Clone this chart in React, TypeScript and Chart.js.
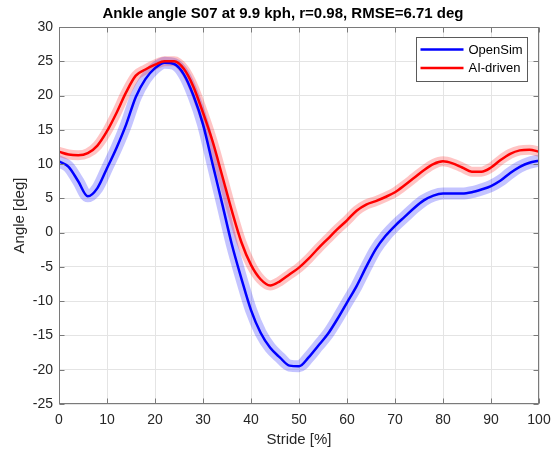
import React, { useEffect, useRef } from "react";
import { Chart, registerables } from "chart.js";

Chart.register(...registerables);

const titleText = "Ankle angle S07 at 9.9 kph, r=0.98, RMSE=6.71 deg";
const xTitle = "Stride [%]";
const yTitle = "Angle [deg]";
const seriesNames = ["OpenSim", "AI-driven"];

const stride = [
  0, 2, 4, 6, 8, 10, 12, 14, 16, 18, 20, 22, 24, 26, 28, 30, 32, 34, 36, 38, 40,
  42, 44, 46, 48, 50, 52, 54, 56, 58, 60, 62, 64, 66, 68, 70, 72, 74, 76, 78, 80,
  82, 84, 86, 88, 90, 92, 94, 96, 98, 100,
];

const openSim = [
  10.4, 9.6, 7.5, 5.3, 6.5, 9.4, 12.4, 15.8, 19.8, 22.4, 24.0, 24.8, 24.6, 23.1,
  20.0, 15.8, 10.0, 4.2, -1.7, -6.7, -11.3, -14.6, -16.8, -18.2, -19.4, -19.5,
  -18.2, -16.5, -14.8, -12.6, -10.2, -7.8, -5.0, -2.4, -0.5, 1.0, 2.3, 3.6, 4.7,
  5.4, 5.7, 5.7, 5.7, 5.9, 6.3, 6.8, 7.6, 8.7, 9.6, 10.2, 10.5,
];

const aiDriven = [
  11.8, 11.4, 11.3, 11.6, 12.7, 14.8, 17.5, 20.5, 22.9, 23.8, 24.5, 25.0, 25.0,
  23.9, 21.3, 17.5, 13.3, 8.3, 3.2, -1.4, -4.7, -6.8, -7.7, -7.1, -6.1, -5.1,
  -3.8, -2.3, -0.9, 0.5, 1.8, 3.2, 4.1, 4.6, 5.2, 5.9, 6.9, 8.0, 9.1, 10.0, 10.4,
  10.1, 9.5, 8.9, 8.9, 9.5, 10.6, 11.5, 12.0, 12.1, 11.8,
];

const strideTicks = [0, 10, 20, 30, 40, 50, 60, 70, 80, 90, 100];
const angleTicks = [-25, -20, -15, -10, -5, 0, 5, 10, 15, 20, 25, 30];

const FONT = "'Liberation Sans', Arial, Helvetica, sans-serif";
const TEXT = "#262626";
const GRID = "#e4e4e4";
const AXIS = "#7a7a7a";

const toPoints = (ys: number[]) => stride.map((x, i) => ({ x, y: ys[i] }));

const framePlugin = {
  id: "matlabFrame",
  afterDatasetsDraw(chart: any) {
    const { ctx, chartArea } = chart;
    const xs = chart.scales.x;
    const ys = chart.scales.y;
    const l = Math.round(chartArea.left) + 0.5;
    const r = Math.round(chartArea.right) - 0.5;
    const t = Math.round(chartArea.top) + 0.5;
    const b = Math.round(chartArea.bottom) - 0.5;
    ctx.save();
    ctx.strokeStyle = AXIS;
    ctx.lineWidth = 1;
    ctx.strokeRect(l, t, r - l, b - t);
    const tl = 5;
    ctx.beginPath();
    strideTicks.forEach((v) => {
      const px = Math.round(xs.getPixelForValue(v)) + 0.5;
      ctx.moveTo(px, b);
      ctx.lineTo(px, b - tl);
      ctx.moveTo(px, t);
      ctx.lineTo(px, t + tl);
    });
    angleTicks.forEach((v) => {
      const py = Math.round(ys.getPixelForValue(v)) + 0.5;
      ctx.moveTo(l, py);
      ctx.lineTo(l + tl, py);
      ctx.moveTo(r, py);
      ctx.lineTo(r - tl, py);
    });
    ctx.stroke();

    // legend box
    const bw = 111;
    const bh = 44;
    const bx = Math.round(chartArea.right) - 123 + 0.5;
    const by = Math.round(chartArea.top) + 10 + 0.5;
    ctx.fillStyle = "#ffffff";
    ctx.fillRect(bx, by, bw, bh);
    ctx.strokeStyle = "#5a5a5a";
    ctx.strokeRect(bx, by, bw, bh);
    const entries = [
      { name: seriesNames[0], color: chart.data.datasets[0].borderColor, dy: 12 },
      { name: seriesNames[1], color: chart.data.datasets[1].borderColor, dy: 30.5 },
    ];
    ctx.font = `13px ${FONT}`;
    ctx.textBaseline = "middle";
    ctx.textAlign = "left";
    entries.forEach((e) => {
      ctx.strokeStyle = e.color;
      ctx.lineWidth = 2.5;
      ctx.beginPath();
      ctx.moveTo(bx + 4, by + e.dy);
      ctx.lineTo(bx + 47, by + e.dy);
      ctx.stroke();
      ctx.fillStyle = "#000000";
      ctx.fillText(e.name, bx + 52, by + e.dy + 0.5);
    });
    ctx.restore();
  },
};

export default function App() {
  const ref = useRef<HTMLCanvasElement | null>(null);

  useEffect(() => {
    if (!ref.current) return;
    const lineCommon = {
      pointRadius: 0,
      pointHoverRadius: 0,
      cubicInterpolationMode: "monotone" as const,
      borderJoinStyle: "round" as const,
      borderCapStyle: "round" as const,
      fill: false,
    };
    const chart = new Chart(ref.current, {
      type: "line",
      data: {
        datasets: [
          {
            ...lineCommon,
            label: seriesNames[0],
            data: toPoints(openSim),
            borderColor: "#0000ff",
            borderWidth: 2.5,
            order: 1,
          },
          {
            ...lineCommon,
            label: seriesNames[1],
            data: toPoints(aiDriven),
            borderColor: "#ff0000",
            borderWidth: 2.5,
            order: 0,
          },
          {
            ...lineCommon,
            label: seriesNames[0] + " band",
            data: toPoints(openSim),
            borderColor: "rgba(0,0,255,0.23)",
            borderWidth: 12,
            order: 3,
          },
          {
            ...lineCommon,
            label: seriesNames[1] + " band",
            data: toPoints(aiDriven),
            borderColor: "rgba(255,0,0,0.23)",
            borderWidth: 10,
            order: 2,
          },
        ],
      },
      options: {
        responsive: false,
        animation: false,
        devicePixelRatio: 1,
        events: [],
        layout: { padding: { left: 15, right: 0, top: 0, bottom: 6 } },
        plugins: {
          legend: { display: false },
          tooltip: { enabled: false },
          title: {
            display: true,
            text: titleText,
            color: "#000000",
            font: { family: FONT, size: 15, weight: "bold" },
            padding: { top: 5, bottom: 4 },
          },
        },
        scales: {
          x: {
            type: "linear",
            min: 0,
            max: 100,
            afterBuildTicks: (s: any) => {
              s.ticks = strideTicks.map((v) => ({ value: v }));
            },
            afterFit: (s: any) => {
              s.height = 45;
              s.paddingLeft = 0;
              s.paddingRight = 12;
            },
            border: { display: false },
            grid: { color: GRID, lineWidth: 1, drawTicks: false },
            ticks: {
              color: TEXT,
              font: { family: FONT, size: 14 },
              padding: 8,
              maxRotation: 0,
              autoSkip: false,
            },
            title: {
              display: true,
              text: xTitle,
              color: TEXT,
              font: { family: FONT, size: 15 },
              padding: { top: 2, bottom: 0 },
            },
          },
          y: {
            type: "linear",
            min: -25,
            max: 30,
            afterBuildTicks: (s: any) => {
              s.ticks = angleTicks.map((v) => ({ value: v }));
            },
            afterFit: (s: any) => {
              s.width = 44;
            },
            border: { display: false },
            grid: { color: GRID, lineWidth: 1, drawTicks: false },
            ticks: {
              color: TEXT,
              font: { family: FONT, size: 14 },
              padding: 6,
              autoSkip: false,
            },
            title: {
              display: true,
              text: yTitle,
              color: TEXT,
              font: { family: FONT, size: 15 },
              padding: { top: -4, bottom: 0 },
            },
          },
        },
      },
      plugins: [framePlugin],
    });
    return () => chart.destroy();
  }, []);

  return (
    <div
      style={{
        position: "fixed",
        left: 0,
        top: 0,
        width: 551,
        height: 455,
        background: "#ffffff",
      }}
    >
      <canvas ref={ref} width={551} height={455} />
    </div>
  );
}
